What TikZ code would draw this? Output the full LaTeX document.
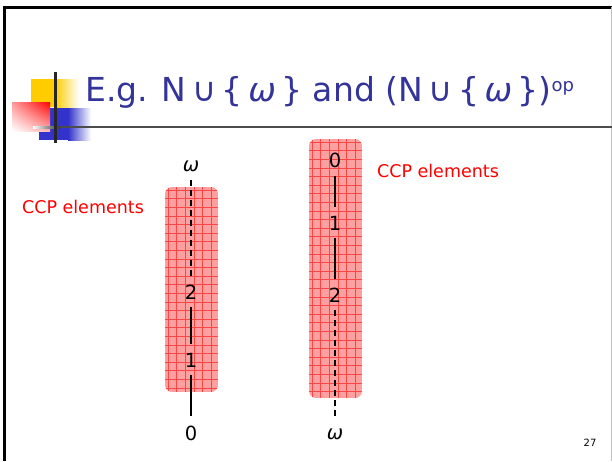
\documentclass[tikz,border=0pt]{standalone}
\usepackage{fontspec}
\setmainfont{DejaVu Sans}
\usetikzlibrary{calc,shadings}
\definecolor{titleblue}{RGB}{51,51,153}
\definecolor{logoyellow}{RGB}{255,204,0}
\definecolor{logoblue}{RGB}{51,51,204}
\definecolor{ccpred}{RGB}{255,0,0}
\definecolor{boxpink}{RGB}{255,160,160}
\definecolor{gridred}{RGB}{250,70,70}
\tikzset{
  num/.style={font=\fontsize{19.5}{22}\selectfont, text=black, inner sep=0pt},
  ccp/.style={font=\fontsize{17.5}{20}\selectfont, text=ccpred},
  solidline/.style={line width=1.6pt, black, shorten <=8pt, shorten >=9pt},
  dashline/.style={line width=1.6pt, black, dash pattern=on 6pt off 4pt, shorten <=8pt, shorten >=9pt},
}
\newcommand{\ccpbox}[4]{%
  \begin{scope}
    \path[clip, rounded corners=7pt] (#1,#2) rectangle (#3,#4);
    \fill[boxpink] (#1,#2) rectangle (#3,#4);
    \foreach \gx in {0,8.6,...,60} {\draw[gridred, line width=0.5pt] ($(#1,#2)+(\gx+3,0)$) -- ($(#1,#4)+(\gx+3,0)$);}
    \foreach \gy in {0,8.6,...,270} {\draw[gridred, line width=0.5pt] ($(#1,#2)+(0,\gy+3)$) -- ($(#3,#2)+(0,\gy+3)$);}
  \end{scope}}
\begin{document}
\begin{tikzpicture}[x=1pt,y=-1pt]
\useasboundingbox (0,0) rectangle (612,461);
\fill[white] (0,0) rectangle (612,461);
% slide border
\draw[line width=3pt, black] (4,461) -- (4,7) -- (612,7);
\draw[line width=0.8pt, black!25] (611,7) -- (611,461);
% logo
\fill[logoyellow] (31,79) rectangle (55,107);
\shade[left color=logoyellow, right color=white] (55,79) rectangle (79,107);
\fill[logoblue] (39,108) rectangle (68,140);
\shade[left color=logoblue, right color=white] (68,108) rectangle (91,140);
\shade[upper right=red, upper left=red!40, lower right=red!30, lower left=white] (12,102) rectangle (50,131);
\shade[left color=white, right color=black!80] (33,126) rectangle (60,128);
\fill[black!70] (60,126) rectangle (612,128);
\fill[black!85] (54,72) rectangle (57,143);
% title
\node[anchor=west, text=titleblue, font=\fontsize{33}{36}\selectfont, inner sep=0pt] (title) at (85,92)
  {E.g. N\,∪\,\{\,{\itshape ω}\,\} and (N\,∪\,\{\,{\itshape ω}\,\})\raisebox{10pt}{\fontsize{18}{20}\selectfont op}};
% left diagram
\ccpbox{165}{187}{218}{392}
\node[num] (lw) at (191,166) {\itshape ω};
\node[num] (l2) at (191,292) {2};
\node[num] (l1) at (191,360) {1};
\node[num] (l0) at (191,433) {0};
\draw[dashline] (lw) -- (l2);
\draw[solidline] (l2) -- (l1);
\draw[solidline] (l1) -- (l0);
\node[ccp] (ccpl) at (83,207) {CCP elements};
% right diagram
\ccpbox{309}{139}{362}{398}
\node[num] (r0) at (335,160) {0};
\node[num] (r1) at (335,223) {1};
\node[num] (r2) at (335,295) {2};
\node[num] (rw) at (335,434) {\itshape ω};
\draw[solidline] (r0) -- (r1);
\draw[solidline] (r1) -- (r2);
\draw[dashline] (r2) -- (rw);
\node[ccp] (ccpr) at (438,171) {CCP elements};
% page number
\node[font=\fontsize{10}{12}\selectfont] (page) at (590,443) {27};
\end{tikzpicture}
\end{document}
